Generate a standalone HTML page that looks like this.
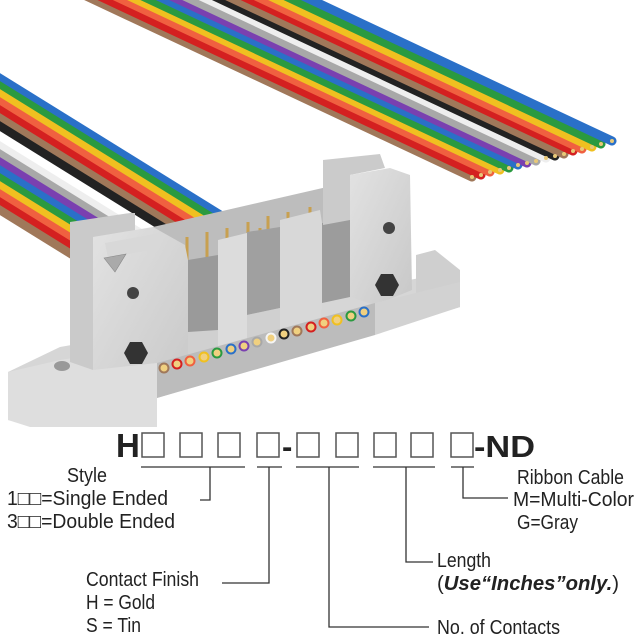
<!DOCTYPE html>
<html><head><meta charset="utf-8"><style>
html,body{margin:0;padding:0;background:#fff;}
svg{display:block;}
text{font-family:"Liberation Sans",sans-serif;fill:#222;}
</style></head><body>
<svg width="640" height="640" viewBox="0 0 640 640" xmlns="http://www.w3.org/2000/svg">
<defs>
<linearGradient id="g1" x1="0" y1="0" x2="1" y2="1"><stop offset="0" stop-color="#e2e2e2"/><stop offset="1" stop-color="#c8c8c8"/></linearGradient>
</defs>
<!-- right ribbon -->
<g stroke-linecap="round">
<line x1="472" y1="177" x2="50" y2="-21" stroke="#a0785a" stroke-width="9"/>
<line x1="481" y1="175" x2="59" y2="-23" stroke="#d42020" stroke-width="9"/>
<line x1="490" y1="172" x2="68" y2="-26" stroke="#f06040" stroke-width="9"/>
<line x1="500" y1="170" x2="78" y2="-28" stroke="#f0c020" stroke-width="9"/>
<line x1="509" y1="168" x2="87" y2="-30" stroke="#2a9a40" stroke-width="9"/>
<line x1="518" y1="165" x2="96" y2="-33" stroke="#2a70c8" stroke-width="9"/>
<line x1="527" y1="163" x2="105" y2="-35" stroke="#7a40b0" stroke-width="9"/>
<line x1="536" y1="161" x2="114" y2="-37" stroke="#a8a8a8" stroke-width="9"/>
<line x1="546" y1="158" x2="124" y2="-40" stroke="#eeeeee" stroke-width="9"/>
<line x1="555" y1="156" x2="133" y2="-42" stroke="#222222" stroke-width="9"/>
<line x1="564" y1="154" x2="142" y2="-44" stroke="#a0785a" stroke-width="9"/>
<line x1="573" y1="151" x2="151" y2="-47" stroke="#d42020" stroke-width="9"/>
<line x1="582" y1="149" x2="160" y2="-49" stroke="#f06040" stroke-width="9"/>
<line x1="592" y1="147" x2="170" y2="-51" stroke="#f0c020" stroke-width="9"/>
<line x1="601" y1="144" x2="179" y2="-54" stroke="#2a9a40" stroke-width="9"/>
<line x1="612" y1="141" x2="190" y2="-57" stroke="#2a70c8" stroke-width="9"/>
</g>
<g fill="#e8c878">
<circle cx="472" cy="177" r="2"/><circle cx="481" cy="175" r="2"/><circle cx="490" cy="172" r="2"/><circle cx="500" cy="170" r="2"/><circle cx="509" cy="168" r="2"/><circle cx="518" cy="165" r="2"/><circle cx="527" cy="163" r="2"/><circle cx="536" cy="161" r="2"/><circle cx="546" cy="158" r="2"/><circle cx="555" cy="156" r="2"/><circle cx="564" cy="154" r="2"/><circle cx="573" cy="151" r="2"/><circle cx="582" cy="149" r="2"/><circle cx="592" cy="147" r="2"/><circle cx="601" cy="144" r="2"/><circle cx="612" cy="141" r="2"/>
</g>
<!-- left ribbon -->
<g stroke-width="8.5">
<line x1="-5" y1="75" x2="240" y2="227" stroke="#2a70c8"/>
<line x1="-5" y1="83" x2="240" y2="235" stroke="#2a9a40"/>
<line x1="-5" y1="91" x2="240" y2="243" stroke="#f0c020"/>
<line x1="-5" y1="99" x2="240" y2="251" stroke="#f06040"/>
<line x1="-5" y1="107" x2="240" y2="259" stroke="#d42020"/>
<line x1="-5" y1="115" x2="240" y2="267" stroke="#a0785a"/>
<line x1="-5" y1="123" x2="240" y2="275" stroke="#222"/>
<line x1="-5" y1="143" x2="200" y2="270" stroke="#eeeeee"/>
<line x1="-5" y1="151" x2="200" y2="278" stroke="#a8a8a8"/>
<line x1="-5" y1="159" x2="200" y2="286" stroke="#7a40b0"/>
<line x1="-5" y1="167" x2="200" y2="294" stroke="#2a70c8"/>
<line x1="-5" y1="175" x2="200" y2="302" stroke="#2a9a40"/>
<line x1="-5" y1="183" x2="200" y2="310" stroke="#f0c020"/>
<line x1="-5" y1="191" x2="200" y2="318" stroke="#f06040"/>
<line x1="-5" y1="199" x2="200" y2="326" stroke="#d42020"/>
<line x1="-5" y1="207" x2="200" y2="334" stroke="#a0785a"/>
</g>
<!-- connector -->
<polygon points="60,347 157,330 460,270 460,307 157,398 157,427 40,427 8,420 8,372" fill="#d6d6d6"/>
<polygon points="416,255 435,250 460,270 460,307 416,320" fill="#cfcfcf"/>
<polygon points="8,372 60,360 157,345 157,427 30,427 8,420" fill="#dedede"/>
<ellipse cx="62" cy="366" rx="8" ry="5" fill="#999"/>
<polygon points="153,227 327,187 327,300 153,340" fill="#bdbdbd"/>
<g stroke="#c8a050" stroke-width="3">
<line x1="167" y1="243" x2="167" y2="280"/><line x1="187" y1="237" x2="187" y2="280"/><line x1="207" y1="232" x2="207" y2="300"/>
<line x1="227" y1="228" x2="227" y2="280"/><line x1="248" y1="222" x2="248" y2="280"/><line x1="260" y1="228" x2="260" y2="290"/>
<line x1="268" y1="216" x2="268" y2="300"/><line x1="288" y1="212" x2="288" y2="260"/><line x1="310" y1="207" x2="310" y2="260"/>
</g>
<polygon points="70,222 130,213 135,213 135,232 93,240 93,370 70,362" fill="#cacaca"/>
<polygon points="93,237 153,227 185,245 188,260 188,370 157,398 157,363 93,370" fill="url(#g1)"/>
<polygon points="105,243 160,233 160,248 108,258" fill="#d8d8d8"/>
<polygon points="188,260 218,255 218,332 188,340" fill="#9a9a9a"/>
<polygon points="218,240 247,233 247,370 218,372" fill="#dcdcdc"/>
<polygon points="247,232 280,227 280,308 247,315" fill="#a0a0a0"/>
<polygon points="280,220 320,210 322,223 350,217 350,297 322,303 320,330 280,340" fill="#d8d8d8"/>
<polygon points="322,223 350,217 350,297 322,303" fill="#9c9c9c"/>
<polygon points="188,332 218,330 218,370 188,372" fill="#d0d0d0"/>
<polygon points="247,315 280,308 280,340 247,348" fill="#d0d0d0"/>
<polygon points="104,258 126,254 115,272" fill="#aaa" stroke="#888" stroke-width="0.6"/>
<polygon points="323,160 380,154 385,168 350,175 350,220 323,225" fill="#cbcbcb"/>
<polygon points="350,175 390,168 410,175 412,290 375,305 350,297" fill="url(#g1)"/>
<polygon points="157,363 375,303 375,335 157,398" fill="#bcbcbc"/>
<polygon points="375,303 460,282 460,307 375,335" fill="#d2d2d2"/>
<g stroke-width="2">
<circle cx="164" cy="368" r="4.5" fill="#f0d080" stroke="#a0785a"/>
<circle cx="177" cy="364" r="4.5" fill="#f0d080" stroke="#d42020"/>
<circle cx="190" cy="361" r="4.5" fill="#f0d080" stroke="#f06040"/>
<circle cx="204" cy="357" r="4.5" fill="#f0d080" stroke="#f0c020"/>
<circle cx="217" cy="353" r="4.5" fill="#f0d080" stroke="#2a9a40"/>
<circle cx="231" cy="349" r="4.5" fill="#f0d080" stroke="#2a70c8"/>
<circle cx="244" cy="346" r="4.5" fill="#f0d080" stroke="#7a40b0"/>
<circle cx="257" cy="342" r="4.5" fill="#f0d080" stroke="#a8a8a8"/>
<circle cx="271" cy="338" r="4.5" fill="#f0d080" stroke="#f4f4f4"/>
<circle cx="284" cy="334" r="4.5" fill="#f0d080" stroke="#222"/>
<circle cx="297" cy="331" r="4.5" fill="#f0d080" stroke="#a0785a"/>
<circle cx="311" cy="327" r="4.5" fill="#f0d080" stroke="#d42020"/>
<circle cx="324" cy="323" r="4.5" fill="#f0d080" stroke="#f06040"/>
<circle cx="337" cy="320" r="4.5" fill="#f0d080" stroke="#f0c020"/>
<circle cx="351" cy="316" r="4.5" fill="#f0d080" stroke="#2a9a40"/>
<circle cx="364" cy="312" r="4.5" fill="#f0d080" stroke="#2a70c8"/>
</g>
<polygon points="130,342 142,342 148,353 142,364 130,364 124,353" fill="#333"/>
<polygon points="381,274 393,274 399,285 393,296 381,296 375,285" fill="#333"/>
<circle cx="133" cy="293" r="6" fill="#444"/>
<circle cx="389" cy="228" r="6" fill="#444"/>
<!-- part number -->
<text x="116" y="457" font-weight="bold" font-size="33">H</text>
<g fill="none" stroke="#555" stroke-width="1.5">
<rect x="142" y="433" width="22" height="24"/><rect x="180" y="433" width="22" height="24"/><rect x="218" y="433" width="22" height="24"/><rect x="257" y="433" width="22" height="24"/>
<rect x="297" y="433" width="22" height="24"/><rect x="336" y="433" width="22" height="24"/><rect x="374" y="433" width="22" height="24"/><rect x="411" y="433" width="22" height="24"/><rect x="451" y="433" width="22" height="24"/>
</g>
<text x="282" y="457" font-weight="bold" font-size="31">-</text>
<text x="474" y="457" font-weight="bold" font-size="31" textLength="61" lengthAdjust="spacingAndGlyphs">-ND</text>
<g stroke="#333" stroke-width="1.3" fill="none">
<line x1="141" y1="467" x2="245" y2="467"/><polyline points="210,467 210,500 200,500"/>
<line x1="257" y1="467" x2="282" y2="467"/><polyline points="269,467 269,583 222,583"/>
<line x1="296" y1="467" x2="359" y2="467"/><polyline points="329,467 329,627 429,627"/>
<line x1="373" y1="467" x2="435" y2="467"/><polyline points="406,467 406,562 433,562"/>
<line x1="451" y1="467" x2="474" y2="467"/><polyline points="463,467 463,498 508,498"/>
</g>
<g font-size="20">
<text x="67" y="482" textLength="40" lengthAdjust="spacingAndGlyphs">Style</text>
<text x="7" y="505" textLength="161" lengthAdjust="spacingAndGlyphs">1□□=Single Ended</text>
<text x="7" y="528" textLength="168" lengthAdjust="spacingAndGlyphs">3□□=Double Ended</text>
<text x="517" y="484" textLength="107" lengthAdjust="spacingAndGlyphs">Ribbon Cable</text>
<text x="513" y="506" textLength="121" lengthAdjust="spacingAndGlyphs">M=Multi-Color</text>
<text x="517" y="529" textLength="61" lengthAdjust="spacingAndGlyphs">G=Gray</text>
<text x="437" y="567" textLength="54" lengthAdjust="spacingAndGlyphs">Length</text>
<text x="437" y="590" textLength="182" lengthAdjust="spacingAndGlyphs">(<tspan font-weight="bold" font-style="italic">Use“Inches”only.</tspan>)</text>
<text x="86" y="586" textLength="113" lengthAdjust="spacingAndGlyphs">Contact Finish</text>
<text x="86" y="609" textLength="69" lengthAdjust="spacingAndGlyphs">H = Gold</text>
<text x="86" y="632" textLength="55" lengthAdjust="spacingAndGlyphs">S = Tin</text>
<text x="437" y="634" textLength="123" lengthAdjust="spacingAndGlyphs">No. of Contacts</text>
</g>
</svg>
</body></html>
